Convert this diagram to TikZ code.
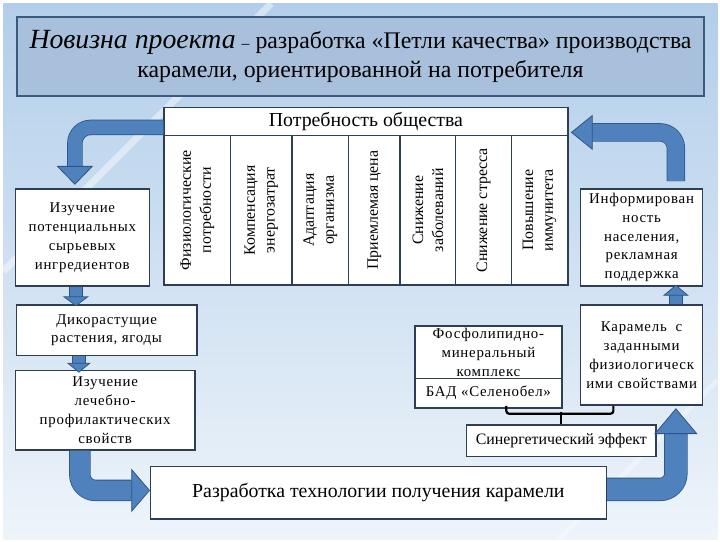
\documentclass[tikz,border=0pt]{standalone}
\usepackage{fontspec}
\setmainfont{Liberation Serif}
\newfontfamily\spacedfont{Liberation Serif}[LetterSpace=5]
\usepackage{tikz}
\usetikzlibrary{calc,positioning}

\definecolor{arrowblue}{HTML}{4F81BD}
\definecolor{arrowedge}{HTML}{2F5485}
\definecolor{boxedge}{HTML}{2E3F55}
\definecolor{titlefill}{HTML}{A9C0DC}
\definecolor{titleedge}{HTML}{3C5A7E}
\definecolor{bgtop}{HTML}{B2CEEA}
\definecolor{bgbot}{HTML}{EEF4FA}

\tikzset{
  box/.style={draw=boxedge, line width=1.5pt, fill=white, inner sep=0pt,
    align=center, font=\spacedfont\fontsize{15}{19}\selectfont},
  colbox/.style={box, rotate=90, minimum width=151pt, font=\fontsize{16}{20}\selectfont},
  shaft/.style={draw=arrowedge, line width=0.8pt, double=arrowblue,
    double distance=#1, rounded corners=16pt},
  headtri/.style={fill=arrowblue, draw=arrowedge, line width=0.8pt, line join=miter},
  bracket/.style={line width=2.2pt, rounded corners=3pt},
}

\begin{document}
\begin{tikzpicture}[x=1pt,y=-1pt]
  % background
  \shade[top color=bgtop, bottom color=bgbot] (0,0) rectangle (720,540);
  \draw[white, opacity=.45, line width=7pt] (0,270) -- (270,0);
  \draw[white, opacity=.35, line width=5pt] (560,540) -- (720,380);

  % title
  \node[draw=titleedge, line width=2pt, fill=titlefill, inner sep=0pt,
    minimum width=692pt, minimum height=79pt, align=center,
    font=\fontsize{24}{30}\selectfont] (title) at (360,53.5)
    {{\fontsize{28}{30}\selectfont\itshape Новизна проекта} {\fontsize{16}{30}\selectfont –} разработка «Петли качества» производства\\
     карамели, ориентированной на потребителя};

  % table of needs
  \node[box, minimum width=407pt, minimum height=28pt,
    font=\rmfamily\fontsize{20}{24}\selectfont] (need) at (365.5,119) {Потребность общества};
  \foreach \x/\w/\n/\t in {195.5/67/c1/{Физиологические\\потребности},
      260/62/c2/{Компенсация\\энергозатрат},
      319.5/57/c3/{Адаптация\\организма},
      374/52/c4/{Приемлемая цена},
      428/56/c5/{Снижение\\заболеваний},
      484/56/c6/{Снижение стресса},
      540.5/57/c7/{Повышение\\иммунитета}}
    \node[colbox, minimum height=\w pt] (\n) at (\x,208.5) {\t};

  % side boxes
  \node[box, minimum width=135pt, minimum height=98pt] (ingr) at (79.5,236)
    {Изучение\\потенциальных\\сырьевых\\ингредиентов};
  \node[box, minimum width=123pt, minimum height=98pt] (inform) at (643.5,236)
    {Информирован\\ность\\населения,\\рекламная\\поддержка};
  \node[box, minimum width=182pt, minimum height=51pt] (wild) at (104,329.5)
    {Дикорастущие\\растения, ягоды};
  \node[box, minimum width=181pt, minimum height=80pt] (heal) at (102.5,410)
    {Изучение\\лечебно-\\профилактических\\свойств};
  \node[box, minimum width=460pt, minimum height=53pt,
    font=\rmfamily\fontsize{20}{24}\selectfont] (tech) at (378,493.5)
    {Разработка технологии получения карамели};
  \node[box, minimum width=148pt, minimum height=53pt] (phos) at (489,351.5)
    {Фосфолипидно-\\минеральный\\комплекс};
  \node[box, minimum width=148pt, minimum height=30pt] (bad) at (489,393)
    {БАД «Селенобел»};
  \node[box, minimum width=123pt, minimum height=101pt] (caramel) at (643.5,354.5)
    {Карамель \ с\\заданными\\физиологическ\\ими свойствами};
  \node[box, minimum width=191pt, minimum height=32pt,
    font=\rmfamily\fontsize{16}{20}\selectfont] (syn) at (562.5,441)
    {Синергетический эффект};

  % bent arrows
  \coordinate (lh) at ($(ingr.north)+(-7.5,-22)$);
  \draw[shaft=14pt] ($(need.west)+(0,6)$) -| (lh);
  \draw[headtri] ($(lh)+(-17.5,0)$) -- ($(lh)+(17.5,0)$) -- ($(lh)+(0,18)$) -- cycle;

  \coordinate (rh) at ($(need.east)+(24,11)$);
  \draw[shaft=17pt] ($(inform.north)+(34.5,-7)$) |- (rh);
  \draw[headtri] ($(rh)+(0,-17)$) -- ($(rh)+(0,17)$) -- ($(rh)+(-21,0)$) -- cycle;

  \coordinate (bh) at ($(tech.west)+(-18,-2.5)$);
  \draw[shaft=20pt] ($(heal.south)+(-25.5,0)$) |- (bh);
  \draw[headtri] ($(bh)+(0,-21)$) -- ($(bh)+(0,21)$) -- ($(bh)+(18,0)$) -- cycle;

  \coordinate (ch) at ($(caramel.south)+(34.5,28)$);
  \draw[shaft=22pt] ($(tech.east)+(0,-3.5)$) -| (ch);
  \draw[headtri] ($(ch)+(-21,0)$) -- ($(ch)+(21,0)$) -- ($(ch)+(0,-25)$) -- cycle;

  % short arrows
  \coordinate (s1) at ($(ingr.south)+(-6.5,10)$);
  \draw[shaft=12pt] ($(ingr.south)+(-6.5,0)$) -- (s1);
  \draw[headtri] ($(s1)+(-12,0)$) -- ($(s1)+(12,0)$) -- ($(s1)+(0,9)$) -- cycle;

  \coordinate (s2) at ($(wild.south)+(-28,7)$);
  \draw[shaft=12pt] ($(wild.south)+(-28,0)$) -- (s2);
  \draw[headtri] ($(s2)+(-11,0)$) -- ($(s2)+(11,0)$) -- ($(s2)+(0,9)$) -- cycle;

  \coordinate (s3) at ($(caramel.north)+(34.5,-9)$);
  \draw[shaft=12pt] ($(caramel.north)+(34.5,0)$) -- (s3);
  \draw[headtri] ($(s3)+(-12,0)$) -- ($(s3)+(12,0)$) -- ($(s3)+(0,-10)$) -- cycle;

  % bracket to synergy
  \coordinate (bl) at ($(bad.south)+(18,-3)$);
  \draw[bracket] (bl) -- ++(0,8) -- ++(108,0) -- ++(0,-8);
  \draw[bracket] (syn.north) -- ++(0,-12);
\end{tikzpicture}
\end{document}
